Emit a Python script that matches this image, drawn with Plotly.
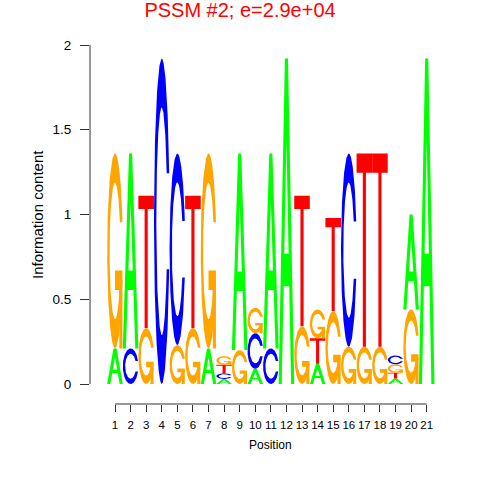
import numpy as np
import plotly.graph_objects as go

# ---------------- data ----------------
positions = list(range(1, 22))
tick_labels = [str(p) for p in positions]

height_A = [0.21, 1.15, 0.00, 0.00, 0.00, 0.00, 0.21, 0.030, 1.16, 0.09, 1.15, 1.92, 0.00, 0.12, 0.00, 0.00, 0.00, 0.00, 0.032, 0.56, 1.92]
height_C = [0.00, 0.21, 0.00, 1.92, 1.13, 0.00, 0.00, 0.033, 0.00, 0.21, 0.21, 0.00, 0.00, 0.00, 0.00, 1.14, 0.00, 0.00, 0.052, 0.00, 0.00]
height_G = [1.15, 0.00, 0.33, 0.00, 0.23, 0.33, 1.15, 0.052, 0.20, 0.15, 0.00, 0.00, 0.34, 0.17, 0.43, 0.22, 0.22, 0.22, 0.050, 0.44, 0.00]
height_T = [0.00, 0.00, 0.78, 0.00, 0.00, 0.78, 0.00, 0.050, 0.00, 0.00, 0.00, 0.00, 0.77, 0.15, 0.55, 0.00, 1.14, 1.14, 0.034, 0.00, 0.00]

# stacking order, bottom -> top
stack_order = ["AG", "CA", "GT", "C", "GC", "GT", "AG", "ACTG", "GA", "ACG", "CA",
               "A", "GT", "ATG", "GT", "GC", "GT", "GT", "ATGC", "GA", "A"]

y_ticks = [0, 0.5, 1, 1.5, 2]
y_tick_labels = ["0", "0.5", "1", "1.5", "2"]

title_text = "PSSM #2; e=2.9e+04"
x_title = "Position"
y_title = "Information content"

letter_colors = {"A": "#00FF00", "C": "#0000FF", "G": "#FFA500", "T": "#FF0000"}

heights = {"A": height_A, "C": height_C, "G": height_G, "T": height_T}


# ---------------- glyph outlines (unit box) ----------------
def ring_outline():
    a1 = np.linspace(0.3 + np.pi / 2, np.pi, 100)
    a2 = np.linspace(np.pi, 1.5 * np.pi, 100)
    xl = np.concatenate([0.5 + 0.5 * np.sin(a1), 0.5 + 0.5 * np.sin(a2)])
    yl = np.concatenate([0.5 + 0.5 * np.cos(a1), 0.5 + 0.5 * np.cos(a2)])
    x = np.concatenate([xl, xl[::-1]])
    y = np.concatenate([yl, 1 - yl[::-1]])
    h = (0.5 + 0.5 * np.cos(a1)).max()
    xi1 = 0.5 + 0.35 * np.sin(a1)
    yi1 = 0.5 + 0.35 * np.cos(a1)
    m = yi1 <= h
    xi1 = xi1[m]
    yi1 = yi1[m].copy()
    yi1[0] = h
    xi2 = 0.5 + 0.35 * np.sin(a2)
    yi2 = 0.5 + 0.35 * np.cos(a2)
    xi = np.concatenate([xi1, xi2])
    yi = np.concatenate([yi1, yi2])
    x1 = np.concatenate([xi, xi[::-1]])
    y1 = np.concatenate([yi, 1 - yi[::-1]])
    x = np.concatenate([x, x1[::-1]])
    y = np.concatenate([y, y1[::-1]])
    r1 = (0.5 + 0.5 * np.sin(a1)).max()
    return x, y, r1


def glyph(letter, color):
    if letter == "A":
        xo = np.array([0, 4, 6, 10, 8, 6.8, 3.2, 2, 0]) / 10
        yo = np.array([0, 10, 10, 0, 0, 3, 3, 0, 0]) / 10
        xh = np.array([3.6, 5, 6.4, 3.6]) / 10
        yh = np.array([4, 7.5, 4, 4]) / 10
        return [(xo, yo, color), (xh, yh, "white")]
    if letter == "T":
        xo = np.array([0, 10, 10, 6, 6, 4, 4, 0]) / 10
        yo = np.array([10, 10, 9, 9, 0, 0, 9, 9]) / 10
        return [(xo, yo, color)]
    x, y, r1 = ring_outline()
    if letter == "C":
        return [(x, y, color)]
    h1 = 0.4
    xa = np.array([r1, 0.5, 0.5, r1 - 0.2, r1 - 0.2, r1, r1])
    ya = np.array([h1, h1, h1 - 0.1, h1 - 0.1, 0, 0, h1])
    return [(x, y, color), (xa, ya, color)]


# ---------------- build figure ----------------
fig = go.Figure()
letter_width = 1.0

for i, pos in enumerate(positions):
    base = 0.0
    for letter in stack_order[i]:
        h = heights[letter][i]
        if h <= 0:
            continue
        for gx, gy, col in glyph(letter, letter_colors[letter]):
            fig.add_trace(go.Scatter(
                x=pos - letter_width / 2 + letter_width * gx,
                y=base + h * gy,
                mode="lines", fill="toself", fillcolor=col,
                line=dict(width=0, color=col),
                hoverinfo="skip", showlegend=False,
            ))
        base += h

axis_col = "#333333"
font_family = "Liberation Sans, Arial, Helvetica, sans-serif"

# geometry
L, R, T, B = 90, 40, 40, 76
px_per_x = 15.585
px_per_y = 169.5
plot_w = 480 - L - R
plot_h = 480 - T - B
x0 = 1 + (L - 115) / px_per_x
y0 = (384 - (480 - B)) / px_per_y

fig.update_layout(
    width=480, height=480,
    margin=dict(l=L, r=R, t=T, b=B, pad=0),
    plot_bgcolor="white", paper_bgcolor="white",
    font=dict(family=font_family, color="black"),
    title=dict(text=title_text, x=0.5, xanchor="center", xref="container",
               y=1 - 10 / 480, yanchor="middle", yref="container",
               font=dict(size=20, color="#FF0000", family=font_family)),
    xaxis=dict(range=[x0, x0 + plot_w / px_per_x], tickmode="array",
               tickvals=positions, ticktext=tick_labels, ticks="outside",
               ticklen=7, tickwidth=1, tickcolor=axis_col, showline=False,
               showgrid=False, zeroline=False, ticklabelstandoff=3,
               tickfont=dict(size=11.5, color="black", family=font_family),
               fixedrange=True),
    yaxis=dict(range=[y0, y0 + plot_h / px_per_y], tickmode="array",
               tickvals=y_ticks, ticktext=y_tick_labels, ticks="outside",
               ticklen=9, tickwidth=1, tickcolor=axis_col, showline=False,
               showgrid=False, zeroline=False, ticklabelstandoff=6,
               tickfont=dict(size=13.5, color="black", family=font_family),
               fixedrange=True),
    shapes=[
        dict(type="line", xref="paper", yref="y", x0=0, x1=0,
             y0=y_ticks[0], y1=y_ticks[-1], line=dict(color=axis_col, width=1)),
        dict(type="line", xref="x", yref="paper", x0=positions[0], x1=positions[-1],
             y0=0, y1=0, line=dict(color=axis_col, width=1)),
    ],
    annotations=[
        dict(text=y_title, textangle=-90, xref="paper", yref="paper",
             x=(38 - L) / plot_w, y=((480 - B) - 215) / plot_h,
             xanchor="center", yanchor="middle", showarrow=False,
             font=dict(size=15, color="black", family=font_family)),
        dict(text=x_title, xref="x", yref="paper",
             x=(positions[0] + positions[-1]) / 2, y=((480 - B) - 445) / plot_h,
             xanchor="center", yanchor="middle", showarrow=False,
             font=dict(size=12, color="black", family=font_family)),
    ],
)

fig.write_html("out.html", config={"displayModeBar": False},
               post_script="document.body.style.margin='0';")
